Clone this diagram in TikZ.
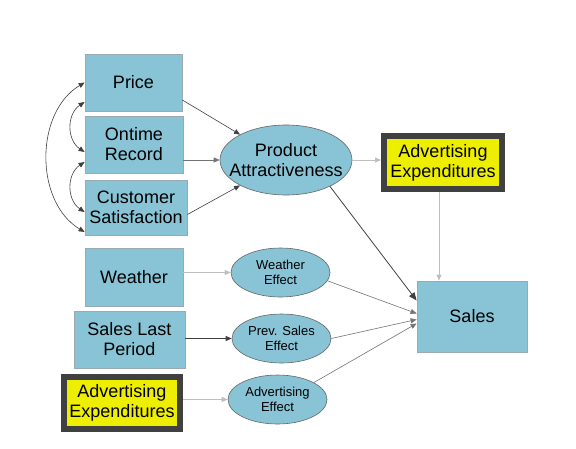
\documentclass[tikz,border=0pt]{standalone}
\usepackage{fontspec}
\setmainfont{Liberation Sans}
\usetikzlibrary{arrows.meta,shapes.geometric}
\definecolor{boxblue}{HTML}{88C4D6}
\definecolor{advyellow}{HTML}{EEEE00}
\definecolor{advborder}{HTML}{404040}
\definecolor{edgegray}{HTML}{9AAAB0}
\tikzset{
  bigtext/.style={font=\fontsize{18pt}{20pt}\selectfont, align=center, text=black},
  smalltext/.style={font=\fontsize{13pt}{15pt}\selectfont, align=center, text=black},
  bluebox/.style={rectangle, draw=edgegray, line width=0.8pt, fill=boxblue, inner sep=0pt, bigtext},
  advbox/.style={rectangle, draw=advborder, line width=6pt, fill=advyellow, inner sep=0pt, bigtext},
  oval/.style={ellipse, draw=gray!80!black, line width=0.6pt, fill=boxblue, inner sep=0pt},
  tip/.style={-{Triangle[length=6pt,width=5pt]}},
  bitip/.style={{Triangle[length=6pt,width=5pt]}-{Triangle[length=6pt,width=5pt]}},
  darkline/.style={draw=black!75, line width=0.6pt},
  midline/.style={draw=black!55, line width=0.6pt},
  lightline/.style={draw=black!25, line width=0.8pt},
}
\begin{document}
\begin{tikzpicture}[x=1pt,y=-1pt]
\useasboundingbox (0,0) rectangle (576,448);
% boxes
\node[bluebox, minimum width=97pt, minimum height=57pt] (price) at (133.5,82.5) {Price};
\node[bluebox, minimum width=98pt, minimum height=57pt] (ontime) at (134,144.5) {Ontime\\Record};
\node[bluebox, minimum width=102pt, minimum height=55pt] (cust) at (136,207.5) {Customer\\Satisfaction};
\node[bluebox, minimum width=98pt, minimum height=58pt] (weather) at (134,277) {Weather};
\node[bluebox, minimum width=111pt, minimum height=57pt] (slp) at (129.5,339.5) {Sales Last\\Period};
\node[advbox, minimum width=116pt, minimum height=52pt] (advb) at (122,403) {Advertising\\Expenditures};
\node[advbox, minimum width=118pt, minimum height=53pt] (advt) at (443,162.5) {Advertising\\Expenditures};
\node[bluebox, minimum width=110pt, minimum height=71pt] (sales) at (472,316.5) {Sales};
% ovals
\node[oval, minimum width=132pt, minimum height=70pt,
  label={[bigtext]center:{Product\\Attractiveness}}] (pa) at (286,160) {};
\node[oval, minimum width=99pt, minimum height=49pt,
  label={[smalltext]center:{Weather\\Effect}}] (we) at (280.5,272.5) {};
\node[oval, minimum width=99pt, minimum height=49pt,
  label={[smalltext]center:{Prev. Sales\\Effect}}] (pse) at (281.5,338.5) {};
\node[oval, minimum width=99pt, minimum height=49pt,
  label={[smalltext]center:{Advertising\\Effect}}] (ae) at (277.5,399.5) {};
% correlations
\draw[darkline, bitip] (price.west) .. controls +(-50,30) and +(-50,-30) .. ([yshift=-24.5pt]cust.west);
\draw[darkline, bitip] ([yshift=-19.5pt]price.west) .. controls +(-18,12) and +(-18,-12) .. ([yshift=-7.5pt]ontime.west);
\draw[darkline, bitip] ([yshift=-17.5pt]ontime.west) .. controls +(-18,12) and +(-18,-12) .. ([yshift=-4.5pt]cust.west);
% arrows into product attractiveness
\draw[darkline, tip] ([yshift=-17.5pt]price.east) -- (pa.151);
\draw[midline, tip] (pa.west -| ontime.east) -- (pa.west);
\draw[darkline, tip] ([yshift=-7pt]cust.east) -- (pa.209);
\draw[lightline, tip] (pa.east) -- (pa.east -| advt.west);
% arrows to sales
\draw[darkline, line width=0.8pt, -{Triangle[length=8pt,width=6.5pt]}] (pa.-31) -- ([yshift=16pt]sales.west);
\draw[lightline, tip] ([xshift=-4pt]advt.south) -- ([xshift=-4pt]advt.south |- sales.north);
\draw[midline, tip] (we.-10) -- ([yshift=3pt]sales.west);
\draw[midline, tip] (pse.east) -- ([yshift=-3pt]sales.west);
\draw[midline, tip] (ae.25) -- ([yshift=-7pt]sales.west);
% inputs to effects
\draw[lightline, tip] (we.west -| weather.east) -- (we.west);
\draw[darkline, tip] (pse.west -| slp.east) -- (pse.west);
\draw[lightline, tip] (ae.west -| advb.east) -- (ae.west);
\end{tikzpicture}
\end{document}
